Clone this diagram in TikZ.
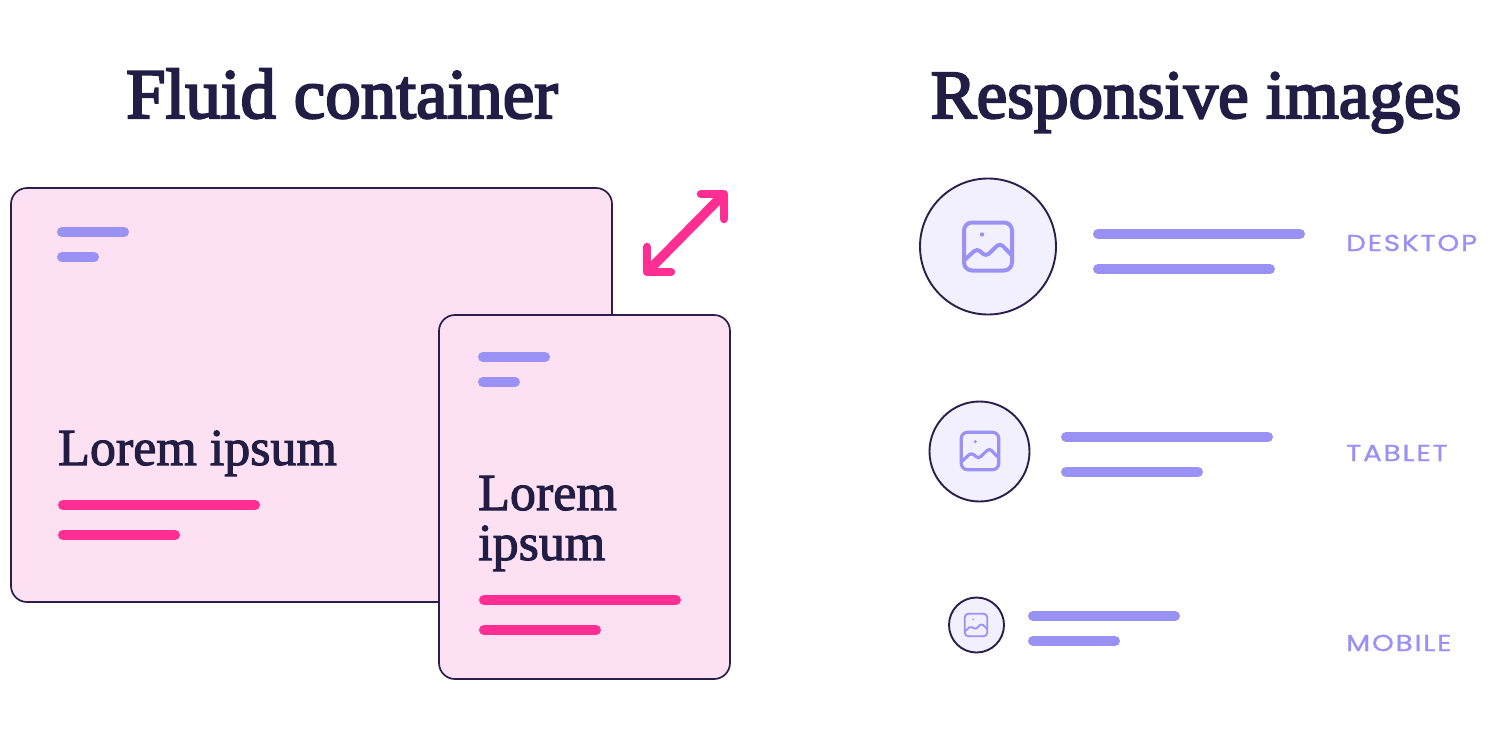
\documentclass[tikz,border=0pt]{standalone}
\usepackage{fontspec}
\setmainfont{Liberation Serif}
\newfontfamily\titlefont[FakeBold=3]{Liberation Serif}
\newfontfamily\loremfont[FakeBold=2]{Liberation Serif}
\newfontfamily\labelfont[LetterSpace=8,FakeBold=1,FakeStretch=1.21]{Poppins}
\definecolor{ink}{HTML}{221D44}
\definecolor{edge}{HTML}{2A1F4A}
\definecolor{lav}{HTML}{9A91F5}
\definecolor{hot}{HTML}{FF2E93}
\definecolor{blush}{HTML}{FDE0F2}
\definecolor{pale}{HTML}{F2F0FF}
\tikzset{
  x=1pt,y=-1pt,
  card/.style={draw=edge,fill=blush,line width=1.7pt,rounded corners=16pt},
  disc/.style={draw=edge,fill=pale,line width=1.9pt},
  barlav/.style={draw=lav,line cap=round,line width=10pt},
  barhot/.style={draw=hot,line cap=round,line width=10pt},
  title/.style={text=ink,inner sep=0pt,anchor=base},
  lorem/.style={text=ink,font=\loremfont\fontsize{52}{52}\selectfont,inner sep=0pt,anchor=base west},
  tag/.style={text=lav,font=\labelfont\fontsize{23}{23}\selectfont,inner sep=0pt,anchor=base west},
  arrowpink/.style={draw=hot,line width=8.5pt,line cap=round,line join=round}
}
\begin{document}
\begin{tikzpicture}
\useasboundingbox (0,0) rectangle (1500,750);
\fill[white] (0,0) rectangle (1500,750);
\node[title,font=\titlefont\fontsize{71}{71}\selectfont] (t1) at (342,118) {Fluid container};
\node[title,font=\titlefont\fontsize{69}{69}\selectfont] (t2) at (1196,118) {Responsive images};
% big card
\draw[card] (11,188) rectangle (612,602);
\draw[barlav] (62,232) -- (124,232);
\draw[barlav] (62,257) -- (94,257);
\node[lorem] (l1) at (58,465) {Lorem ipsum};
\draw[barhot] (63,505) -- (255,505);
\draw[barhot] (63,535) -- (175,535);
% small card
\draw[card] (439,315) rectangle (730,679);
\draw[barlav] (483,357) -- (545,357);
\draw[barlav] (483,382) -- (515,382);
\node[lorem] (l2) at (478,510) {Lorem};
\node[lorem] (l3) at (478,560) {ipsum};
\draw[barhot] (484,600) -- (676,600);
\draw[barhot] (484,630) -- (596,630);
% arrow
\draw[arrowpink,line width=9.5pt] (651,268) -- (720,198);
\draw[arrowpink] (701,194) -- (724,194) -- (724,219);
\draw[arrowpink] (647,247) -- (647,272) -- (671,272);
% icons
\foreach \cx/\cy/\r/\ix/\iy/\s in {988/246.5/68/988/246.5/1, 979.5/451.5/50/980/451/0.78, 976.5/625/27.5/976/625/0.47}{
  \draw[disc] (\cx,\cy) circle[radius=\r];
  \begin{scope}[shift={(\ix,\iy)},scale=\s,draw=lav,line join=round,line cap=round]
    \pgfmathsetmacro\lw{4*\s}
    \draw[line width=\lw pt,rounded corners=8*\s pt] (-24,-24) rectangle (24,24);
    \draw[line width=\lw pt,rounded corners=4*\s pt] (-24,14) -- (-11,2) -- (-2,10) -- (12,-3.5) -- (24,9);
    \fill[lav] (-6,-12) circle[radius=2.2];
  \end{scope}
}
% desktop lines
\draw[barlav] (1098,234) -- (1300,234);
\draw[barlav] (1098,269) -- (1270,269);
\node[tag] (d) at (1346,251) {DESKTOP};
\draw[barlav] (1066,437) -- (1268,437);
\draw[barlav] (1066,472) -- (1198,472);
\node[tag] (ta) at (1346,461) {TABLET};
\draw[barlav] (1033,616) -- (1175,616);
\draw[barlav] (1033,641) -- (1115,641);
\node[tag] (m) at (1346,651) {MOBILE};
\end{tikzpicture}
\end{document}
